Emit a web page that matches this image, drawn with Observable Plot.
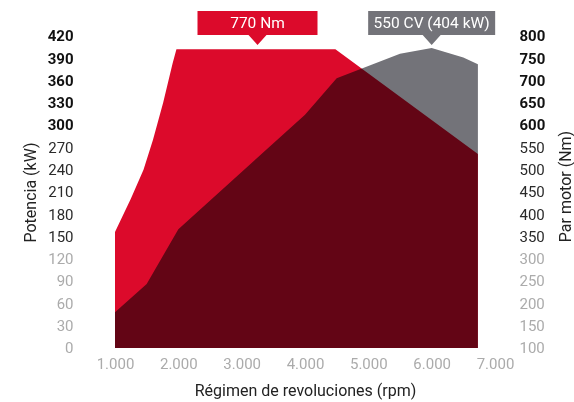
<!DOCTYPE html>
<html><head><meta charset="utf-8">
<script src="https://cdn.jsdelivr.net/npm/d3@7"></script>
<script src="https://cdn.jsdelivr.net/npm/@observablehq/plot@0.6"></script>
<style>body{margin:0;background:#fff;} svg{display:block;}</style>
</head><body><div id="chart"></div>
<script>
// Data
const powerRpm = [1000, 1500, 2000, 4000, 4500, 5500, 6000, 6500, 6730];
const powerKw  = [48, 86, 160, 314, 363, 396, 404, 391, 382];
const torqueRpm = [1000, 1250, 1450, 1600, 1760, 1910, 1970, 4480, 6730];
const torqueNm  = [360, 435, 500, 567, 650, 739, 770, 770, 535];
const xTicks = [1000, 2000, 3000, 4000, 5000, 6000, 7000];
const kwTicksLight = [0, 30, 60, 90, 120];
const kwTicksRegular = [150, 180, 210, 240, 270];
const kwTicksBold = [300, 330, 360, 390, 420];
const nmTicksLight = [100, 150, 200, 250, 300];
const nmTicksRegular = [350, 400, 450, 500, 550];
const nmTicksBold = [600, 650, 700, 750, 800];
const annotRpm = [3250, 6000];
const annotText = ["770 Nm", "550 CV (404 kW)"];

// helpers: map torque (Nm, 100..800) onto the power axis (kW, 0..420)
const nmToAxis = nm => (nm - 100) * 420 / 700;
const axisToNm = v => Math.round(v * 700 / 420 + 100);

const RED = "#dc0a2b", GRAY = "#737379";
const power = powerRpm.map((r, i) => ({rpm: r, v: powerKw[i]}));
const torque = torqueRpm.map((r, i) => ({rpm: r, v: nmToAxis(torqueNm[i])}));
const fmtX = d => d3.format(",")(d).replace(/,/g, ".");

const leftAxis = (ticks, color, weight) => Plot.axisY(ticks, {
  anchor: "left", tickSize: 0, tickPadding: 42, color, fontWeight: weight, fontSize: 15, label: null
});
const rightAxis = (ticks, color, weight) => Plot.axisY(ticks.map(nmToAxis), {
  anchor: "right", tickSize: 0, tickPadding: 24, color, fontWeight: weight, fontSize: 15,
  tickFormat: axisToNm, label: null, textAnchor: "start"
});

const annotations = (index, scales, values, dimensions) => {
  const g = d3.create("svg:g");
  const mt = dimensions.marginTop;
  const widths = [120, 127];
  const fills = [RED, GRAY];
  annotRpm.forEach((r, i) => {
    const cx = scales.x(r), w = widths[i];
    const top = mt - 25, bot = mt - 1, tip = mt + 9;
    g.append("path")
      .attr("d", `M${cx - w / 2},${top}H${cx + w / 2}V${bot}H${cx + 9}L${cx},${tip}L${cx - 9},${bot}H${cx - w / 2}Z`)
      .attr("fill", fills[i]);
    g.append("text")
      .attr("x", cx).attr("y", (top + bot) / 2)
      .attr("text-anchor", "middle").attr("dominant-baseline", "central")
      .attr("fill", "#fff").attr("font-size", 15.5).attr("font-family", "Roboto")
      .text(annotText[i]);
  });
  return g.node();
};

const chart = Plot.plot({
  width: 574, height: 402,
  marginTop: 36, marginBottom: 54, marginLeft: 115, marginRight: 79,
  style: {fontFamily: "Roboto", fontSize: "15px", background: "#fff"},
  x: {domain: [1000, 7000]},
  y: {domain: [0, 420]},
  marks: [
    Plot.areaY(power, {x: "rpm", y: "v", fill: GRAY}),
    Plot.areaY(torque, {x: "rpm", y: "v", fill: RED, mixBlendMode: "multiply"}),
    Plot.axisX(xTicks, {tickSize: 0, tickPadding: 10, color: "#ababab", fontSize: 15, tickFormat: fmtX, label: null}),
    leftAxis(kwTicksLight, "#ababab", "normal"),
    leftAxis(kwTicksRegular, "#2a2a2a", "normal"),
    leftAxis(kwTicksBold, "#111", "bold"),
    rightAxis(nmTicksLight, "#ababab", "normal"),
    rightAxis(nmTicksRegular, "#2a2a2a", "normal"),
    rightAxis(nmTicksBold, "#111", "bold"),
    Plot.text(["Potencia (kW)"], {frameAnchor: "left", dx: -85, rotate: -90, textAnchor: "middle", fontSize: 16, fill: "#222"}),
    Plot.text(["Par motor (Nm)"], {frameAnchor: "right", dx: 70, dy: -6, rotate: -90, textAnchor: "middle", fontSize: 16, fill: "#222"}),
    Plot.text(["Régimen de revoluciones (rpm)"], {frameAnchor: "bottom", dy: 42, lineAnchor: "middle", fontSize: 16, fill: "#222"}),
    annotations
  ]
});
document.getElementById("chart").appendChild(chart);
</script>
</body></html>
